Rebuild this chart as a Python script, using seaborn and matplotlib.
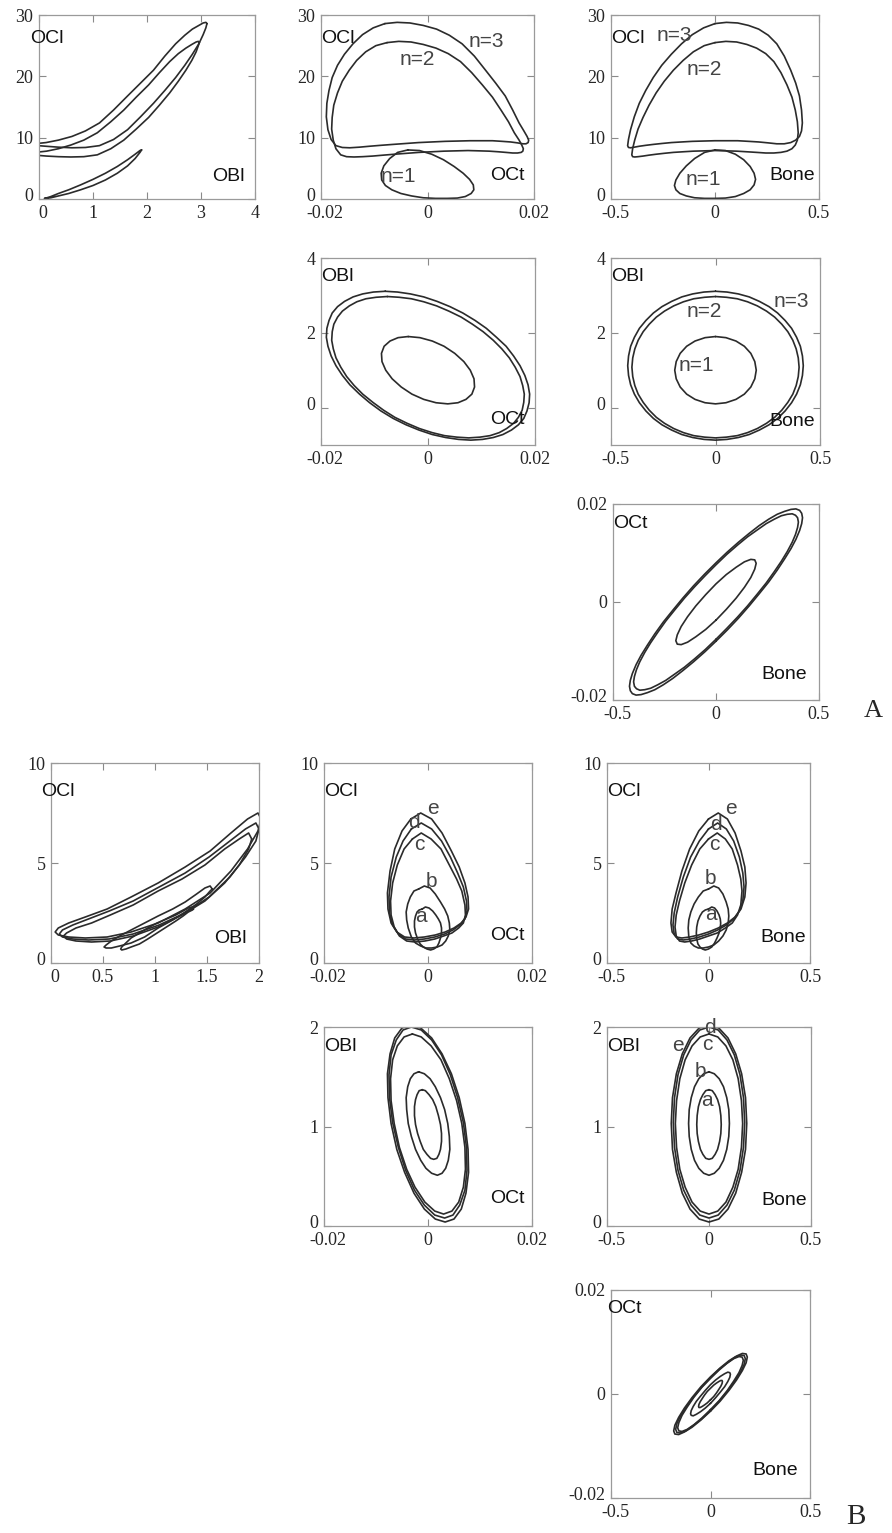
import matplotlib

matplotlib.use("Agg")

import matplotlib.pyplot as plt
import matplotlib.transforms as mtransforms
import numpy as np
import seaborn as sns

# Each trajectory is one cycle of the oscillation, sampled at equal phase steps
# (24 samples for the small loops, 48 for the two large loops of group A).
# Four state variables per trajectory: Bone, OBl, OCt, OCl.

# ---- group A : n = 1, 2, 3
bone_A1 = [0, .050, .098, .138, .169, .188, .195, .188, .169, .138, .098, .050,
           0, -.050, -.098, -.138, -.169, -.188, -.195, -.188, -.169, -.138, -.098, -.050]
obl_A1 = [1.90, 1.87, 1.78, 1.64, 1.45, 1.23, 1.00, 0.77, 0.55, 0.36, 0.22, 0.13,
          0.10, 0.13, 0.22, 0.36, 0.55, 0.77, 1.00, 1.23, 1.45, 1.64, 1.78, 1.87]
oct_A1 = [-.0037, -.0015, .0008, .0030, .0050, .0067, .0079, .0086, .0087, .0082, .0071, .0056,
          .0037, .0015, -.0008, -.0030, -.0050, -.0067, -.0079, -.0086, -.0087, -.0082, -.0071, -.0056]
ocl_A1 = [8.0, 7.9, 7.3, 6.4, 5.3, 4.2, 3.2, 2.3, 1.5, 0.9, 0.4, 0.15,
          0.1, 0.1, 0.2, 0.5, 0.9, 1.5, 2.2, 3.1, 4.2, 5.4, 6.6, 7.6]

bone_A2 = [0, .052, .104, .153, .20, .244, .283, .317, .346, .370, .386, .396,
           .40, .396, .386, .370, .346, .317, .283, .244, .20, .153, .104, .052,
           0, -.052, -.104, -.153, -.20, -.244, -.283, -.317, -.346, -.370, -.386, -.396,
           -.40, -.396, -.386, -.370, -.346, -.317, -.283, -.244, -.20, -.153, -.104, -.052]
obl_A2 = [2.97, 2.95, 2.91, 2.83, 2.72, 2.58, 2.42, 2.23, 2.03, 1.80, 1.57, 1.33,
          1.08, 0.83, 0.59, 0.36, 0.14, -0.07, -0.26, -0.42, -0.56, -0.67, -0.75, -0.79,
          -0.81, -0.79, -0.75, -0.67, -0.56, -0.42, -0.26, -0.07, 0.14, 0.36, 0.59, 0.83,
          1.08, 1.33, 1.57, 1.80, 2.03, 2.23, 2.42, 2.58, 2.72, 2.83, 2.91, 2.95]
oct_A2 = [-.0076, -.0054, -.0031, -.0008, .0016, .0039, .0062, .0083, .0103, .0122, .0138, .0152,
          .0163, .0172, .0177, .0180, .0179, .0176, .0169, .0160, .0147, .0133, .0116, .0097,
          .0076, .0054, .0031, .0008, -.0016, -.0039, -.0062, -.0083, -.0103, -.0122, -.0138, -.0152,
          -.0163, -.0172, -.0177, -.0180, -.0179, -.0176, -.0169, -.0160, -.0147, -.0133, -.0116, -.0097]
ocl_A2 = [25.5, 25.7, 25.6, 25.2, 24.6, 23.7, 22.4, 20.6, 18.6, 16.6, 14.5, 12.6,
          10.8, 9.6, 8.8, 8.2, 7.8, 7.6, 7.5, 7.5, 7.6, 7.7, 7.8, 7.85,
          7.9, 7.85, 7.8, 7.7, 7.6, 7.45, 7.3, 7.15, 7.0, 6.9, 6.85, 6.9,
          7.2, 8.2, 9.6, 11.4, 13.3, 15.3, 17.3, 19.2, 21.0, 22.6, 24.0, 25.0]

bone_A3 = [0, .055, .109, .161, .21, .256, .297, .333, .364, .388, .406, .416,
           .42, .416, .406, .388, .364, .333, .297, .256, .21, .161, .109, .055,
           0, -.055, -.109, -.161, -.21, -.256, -.297, -.333, -.364, -.388, -.406, -.416,
           -.42, -.416, -.406, -.388, -.364, -.333, -.297, -.256, -.21, -.161, -.109, -.055]
obl_A3 = [3.11, 3.09, 3.04, 2.96, 2.84, 2.70, 2.53, 2.33, 2.12, 1.88, 1.64, 1.38,
          1.12, 0.86, 0.61, 0.36, 0.13, -0.09, -0.29, -0.46, -0.60, -0.72, -0.80, -0.85,
          -0.87, -0.85, -0.80, -0.72, -0.60, -0.46, -0.29, -0.09, 0.13, 0.36, 0.61, 0.86,
          1.12, 1.38, 1.64, 1.88, 2.12, 2.33, 2.53, 2.70, 2.84, 2.96, 3.04, 3.09]
oct_A3 = [-.0080, -.0057, -.0033, -.0008, .0017, .0041, .0065, .0088, .0109, .0128, .0146, .0160,
          .0172, .0181, .0187, .0190, .0189, .0185, .0179, .0169, .0156, .0140, .0122, .0102,
          .0080, .0057, .0033, .0008, -.0017, -.0041, -.0065, -.0088, -.0109, -.0128, -.0146, -.0160,
          -.0172, -.0181, -.0187, -.0190, -.0189, -.0185, -.0179, -.0169, -.0156, -.0140, -.0122, -.0102]
ocl_A3 = [28.6, 28.8, 28.7, 28.3, 27.7, 26.7, 25.3, 23.3, 21.0, 18.9, 16.8, 14.5,
          12.4, 11.1, 10.2, 9.6, 9.2, 9.0, 9.0, 9.15, 9.3, 9.4, 9.5, 9.5,
          9.5, 9.45, 9.4, 9.3, 9.2, 9.05, 8.9, 8.75, 8.6, 8.45, 8.35, 8.4,
          8.7, 9.7, 11.3, 13.4, 15.6, 17.7, 19.8, 21.8, 23.6, 25.3, 26.8, 27.9]

# ---- group B : a .. e
bone_Ba = [0, .016, .03, .042, .052, .058, .06, .058, .052, .042, .03, .016,
           0, -.016, -.03, -.042, -.052, -.058, -.06, -.058, -.052, -.042, -.03, -.016]
obl_Ba = [1.37, 1.36, 1.32, 1.27, 1.20, 1.11, 1.02, 0.93, 0.85, 0.77, 0.72, 0.68,
          0.67, 0.68, 0.72, 0.77, 0.85, 0.93, 1.02, 1.11, 1.20, 1.27, 1.32, 1.36]
oct_Ba = [-.0011, -.0005, .0002, .0009, .0015, .0020, .0024, .0026, .0026, .0024, .0021, .0017,
          .0011, .0005, -.0002, -.0009, -.0015, -.0020, -.0024, -.0026, -.0026, -.0024, -.0021, -.0017]
ocl_Ba = [2.7, 2.8, 2.75, 2.6, 2.4, 2.2, 2.0, 1.75, 1.5, 1.25, 1.0, 0.8,
          0.7, 0.65, 0.7, 0.8, 0.95, 1.2, 1.5, 1.8, 2.1, 2.35, 2.55, 2.65]

bone_Bb = [0, .026, .05, .071, .087, .097, .10, .097, .087, .071, .05, .026,
           0, -.026, -.05, -.071, -.087, -.097, -.10, -.097, -.087, -.071, -.05, -.026]
obl_Bb = [1.55, 1.53, 1.48, 1.40, 1.29, 1.17, 1.03, 0.90, 0.77, 0.66, 0.58, 0.53,
          0.51, 0.53, 0.58, 0.66, 0.77, 0.90, 1.03, 1.17, 1.29, 1.40, 1.48, 1.53]
oct_Bb = [-.0018, -.0007, .0004, .0014, .0024, .0032, .0038, .0041, .0042, .0039, .0034, .0027,
          .0018, .0007, -.0004, -.0014, -.0024, -.0032, -.0038, -.0041, -.0042, -.0039, -.0034, -.0027]
ocl_Bb = [3.7, 3.85, 3.75, 3.45, 3.05, 2.7, 2.35, 2.0, 1.65, 1.35, 1.1, 0.9,
          0.8, 0.75, 0.75, 0.85, 1.0, 1.3, 1.75, 2.15, 2.55, 2.95, 3.3, 3.6]

bone_Bc = [0, .043, .083, .117, .143, .159, .165, .159, .143, .117, .083, .043,
           0, -.043, -.083, -.117, -.143, -.159, -.165, -.159, -.143, -.117, -.083, -.043]
obl_Bc = [1.93, 1.90, 1.81, 1.67, 1.48, 1.26, 1.03, 0.79, 0.57, 0.39, 0.24, 0.15,
          0.12, 0.15, 0.24, 0.39, 0.57, 0.79, 1.03, 1.26, 1.48, 1.67, 1.81, 1.90]
oct_Bc = [-.0030, -.0013, .0006, .0025, .0041, .0055, .0065, .0071, .0072, .0068, .0059, .0046,
          .0030, .0013, -.0006, -.0025, -.0041, -.0055, -.0065, -.0071, -.0072, -.0068, -.0059, -.0046]
ocl_Bc = [6.2, 6.5, 6.2, 5.7, 4.9, 4.2, 3.6, 2.9, 2.4, 2.0, 1.75, 1.5,
          1.35, 1.2, 1.1, 1.05, 1.1, 1.35, 1.8, 2.4, 3.1, 4.0, 4.9, 5.7]

bone_Bd = [0, .045, .088, .124, .152, .169, .175, .169, .152, .124, .088, .045,
           0, -.045, -.088, -.124, -.152, -.169, -.175, -.169, -.152, -.124, -.088, -.045]
obl_Bd = [2.00, 1.97, 1.87, 1.72, 1.52, 1.29, 1.04, 0.79, 0.56, 0.36, 0.21, 0.11,
          0.08, 0.11, 0.21, 0.36, 0.56, 0.79, 1.04, 1.29, 1.52, 1.72, 1.87, 1.97]
oct_Bd = [-.0032, -.0013, .0007, .0026, .0043, .0057, .0068, .0074, .0075, .0071, .0061, .0048,
          .0032, .0013, -.0007, -.0026, -.0043, -.0057, -.0068, -.0074, -.0075, -.0071, -.0061, -.0048]
ocl_Bd = [6.7, 7.0, 6.7, 6.1, 5.3, 4.5, 3.8, 3.1, 2.6, 2.2, 1.9, 1.65,
          1.45, 1.3, 1.2, 1.15, 1.2, 1.45, 1.9, 2.5, 3.3, 4.3, 5.3, 6.1]

bone_Be = [0, .048, .093, .131, .160, .179, .185, .179, .160, .131, .093, .048,
           0, -.048, -.093, -.131, -.160, -.179, -.185, -.179, -.160, -.131, -.093, -.048]
obl_Be = [2.02, 1.99, 1.89, 1.73, 1.53, 1.29, 1.03, 0.77, 0.54, 0.33, 0.17, 0.07,
          0.04, 0.07, 0.17, 0.33, 0.54, 0.77, 1.03, 1.29, 1.53, 1.73, 1.89, 1.99]
oct_Be = [-.0033, -.0014, .0007, .0027, .0045, .0060, .0071, .0077, .0078, .0073, .0064, .0050,
          .0033, .0014, -.0007, -.0027, -.0045, -.0060, -.0071, -.0077, -.0078, -.0073, -.0064, -.0050]
ocl_Be = [7.2, 7.5, 7.2, 6.5, 5.6, 4.8, 4.0, 3.3, 2.7, 2.3, 2.0, 1.75,
          1.55, 1.4, 1.3, 1.25, 1.3, 1.55, 2.0, 2.7, 3.5, 4.6, 5.7, 6.6]


def traj(bone, obl, oct_, ocl):
    return {"Bone": bone, "OBl": obl, "OCt": oct_, "OCl": ocl}


group_A = [traj(bone_A1, obl_A1, oct_A1, ocl_A1),
           traj(bone_A2, obl_A2, oct_A2, ocl_A2),
           traj(bone_A3, obl_A3, oct_A3, ocl_A3)]
group_B = [traj(bone_Ba, obl_Ba, oct_Ba, ocl_Ba),
           traj(bone_Bb, obl_Bb, oct_Bb, ocl_Bb),
           traj(bone_Bc, obl_Bc, oct_Bc, ocl_Bc),
           traj(bone_Bd, obl_Bd, oct_Bd, ocl_Bd),
           traj(bone_Be, obl_Be, oct_Be, ocl_Be)]

W, H = 892, 1533
OCT_TICKS = [-0.02, 0, 0.02]
BONE_TICKS = [-0.5, 0, 0.5]

# panel layout: pixel box, x var, y var, limits, ticks, corner-label positions
panels_A = [
    dict(box=(39, 15, 255, 199), x="OBl", y="OCl", xlim=(0, 4), ylim=(0, 30),
         xt=[0, 1, 2, 3, 4], yt=[0, 10, 20, 30], tl=(-0.04, 0.873), br=(0.954, 0.122), tags=[]),
    dict(box=(321, 15, 534, 199), x="OCt", y="OCl", xlim=(-0.02, 0.02), ylim=(0, 30),
         xt=OCT_TICKS, yt=[0, 10, 20, 30], tl=(0.0, 0.873), br=(0.958, 0.13),
         tags=[("n=3", 0.0111, 25.7), ("n=2", -0.002, 22.8), ("n=1", -0.0055, 3.7)]),
    dict(box=(611, 15, 819, 199), x="Bone", y="OCl", xlim=(-0.5, 0.5), ylim=(0, 30),
         xt=BONE_TICKS, yt=[0, 10, 20, 30], tl=(0.0, 0.87), br=(0.98, 0.13),
         tags=[("n=3", -0.197, 26.7), ("n=2", -0.053, 21.1), ("n=1", -0.058, 3.2)]),
    dict(box=(321, 258, 535, 445), x="OCt", y="OBl", xlim=(-0.02, 0.02), ylim=(-1, 4),
         xt=OCT_TICKS, yt=[0, 2, 4], tl=(0.0, 0.9), br=(0.953, 0.134), tags=[]),
    dict(box=(611, 258, 820, 445), x="Bone", y="OBl", xlim=(-0.5, 0.5), ylim=(-1, 4),
         xt=BONE_TICKS, yt=[0, 2, 4], tl=(0.0, 0.9), br=(0.976, 0.128),
         tags=[("n=3", 0.365, 2.84), ("n=2", -0.055, 2.57), ("n=1", -0.094, 1.13)]),
    dict(box=(613, 504, 819, 700), x="Bone", y="OCt", xlim=(-0.5, 0.5), ylim=(-0.02, 0.02),
         xt=BONE_TICKS, yt=OCT_TICKS, tl=(0.0, 0.9), br=(0.94, 0.128), tags=[]),
]

panels_B = [
    dict(box=(51, 763, 259, 963), x="OBl", y="OCl", xlim=(0, 2), ylim=(0, 10),
         xt=[0, 0.5, 1, 1.5, 2], yt=[0, 5, 10], tl=(-0.047, 0.857), br=(0.94, 0.123), tags=[]),
    dict(box=(324, 763, 532, 963), x="OCt", y="OCl", xlim=(-0.02, 0.02), ylim=(0, 10),
         xt=OCT_TICKS, yt=[0, 5, 10], tl=(0.0, 0.86), br=(0.966, 0.136),
         tags=[("e", 0.001, 7.7), ("d", -0.0027, 7.0), ("c", -0.0017, 5.9),
               ("b", 0.0006, 4.07), ("a", -0.0014, 2.35)]),
    dict(box=(607, 763, 810, 963), x="Bone", y="OCl", xlim=(-0.5, 0.5), ylim=(0, 10),
         xt=BONE_TICKS, yt=[0, 5, 10], tl=(0.0, 0.86), br=(0.98, 0.13),
         tags=[("e", 0.11, 7.7), ("d", 0.037, 6.9), ("c", 0.027, 5.95),
               ("b", 0.012, 4.2), ("a", 0.012, 2.45)]),
    dict(box=(324, 1027, 532, 1226), x="OCt", y="OBl", xlim=(-0.02, 0.02), ylim=(0, 2),
         xt=OCT_TICKS, yt=[0, 1, 2], tl=(0.0, 0.9), br=(0.966, 0.136), tags=[]),
    dict(box=(607, 1027, 811, 1226), x="Bone", y="OBl", xlim=(-0.5, 0.5), ylim=(0, 2),
         xt=BONE_TICKS, yt=[0, 1, 2], tl=(0.0, 0.9), br=(0.98, 0.13),
         tags=[("e", -0.154, 1.81), ("d", 0.005, 1.99), ("c", -0.007, 1.82),
               ("b", -0.044, 1.55), ("a", -0.012, 1.26)]),
    dict(box=(611, 1290, 810, 1498), x="Bone", y="OCt", xlim=(-0.5, 0.5), ylim=(-0.02, 0.02),
         xt=BONE_TICKS, yt=OCT_TICKS, tl=(-0.02, 0.912), br=(0.94, 0.131), tags=[]),
]

sns.set_style("ticks")
plt.rcParams["axes.unicode_minus"] = False
plt.rcParams["font.family"] = ["Liberation Serif", "DejaVu Serif"]

SANS = ["Liberation Sans", "DejaVu Sans"]
LINE = "#2b2b2b"


def fmt(v):
    return "0" if v == 0 else f"{v:g}"


def draw_panel(fig, spec, trajectories):
    x0, y0, x1, y1 = spec["box"]
    ax = fig.add_axes([x0 / W, 1 - y1 / H, (x1 - x0) / W, (y1 - y0) / H])
    for tr in trajectories:
        xs = np.append(tr[spec["x"]], tr[spec["x"]][0])
        ys = np.append(tr[spec["y"]], tr[spec["y"]][0])
        sns.lineplot(x=xs, y=ys, sort=False, estimator=None, ax=ax,
                     color=LINE, linewidth=1.2)
    ax.set_xlim(*spec["xlim"])
    ax.set_ylim(*spec["ylim"])
    ax.set_xticks(spec["xt"])
    ax.set_xticklabels([fmt(v) for v in spec["xt"]])
    ax.set_yticks(spec["yt"])
    ax.set_yticklabels([fmt(v) for v in spec["yt"]])
    ax.set_xlabel("")
    ax.set_ylabel("")
    ax.tick_params(direction="in", length=5, width=0.8, color="#8a8a8a",
                   top=True, right=True, labelsize=13, pad=4)
    for sp in ax.spines.values():
        sp.set_color("#9a9a9a")
        sp.set_linewidth(0.9)

    # keep the corner tick labels apart, as in the original figure
    lowest_y = ax.get_yticklabels()[0]
    lowest_y.set_transform(lowest_y.get_transform()
                           + mtransforms.ScaledTranslation(0, 3 / 72, fig.dpi_scale_trans))
    first_x = ax.get_xticklabels()[0]
    first_x.set_transform(first_x.get_transform()
                          + mtransforms.ScaledTranslation(3 / 72, 0, fig.dpi_scale_trans))

    ax.text(*spec["tl"], spec["y"], transform=ax.transAxes, ha="left", va="center",
            family=SANS, fontsize=14, color="#111111", clip_on=False)
    ax.text(*spec["br"], spec["x"], transform=ax.transAxes, ha="right", va="center",
            family=SANS, fontsize=14, color="#111111")
    for label, tx, ty in spec["tags"]:
        ax.text(tx, ty, label, ha="center", va="center", family=SANS,
                fontsize=15, color="#444444")
    return ax


fig = plt.figure(figsize=(W / 100, H / 100), dpi=100)
for spec in panels_A:
    draw_panel(fig, spec, group_A)
for spec in panels_B:
    draw_panel(fig, spec, group_B)

fig.text(873 / W, 1 - 711 / H, "A", ha="center", va="center", fontsize=19)
fig.text(856 / W, 1 - 1517 / H, "B", ha="center", va="center", fontsize=21)

fig.savefig("out.png", dpi=100, facecolor="white")
